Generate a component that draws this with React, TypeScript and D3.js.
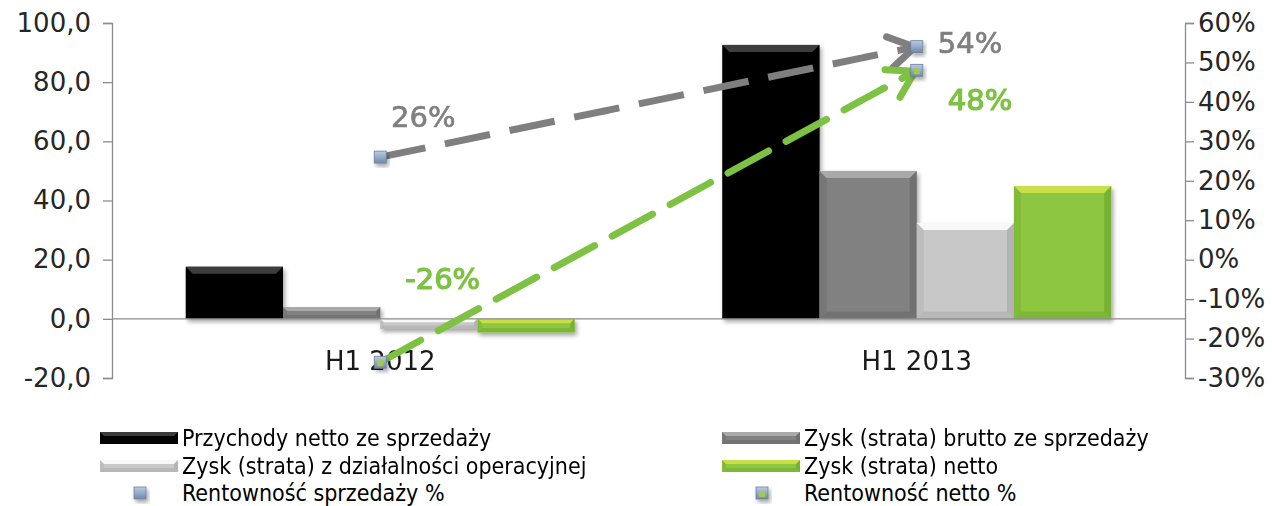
import { useEffect, useRef } from "react";
import * as d3 from "d3";

// chart data
const categories = ["H1 2012", "H1 2013"];
const przychody = [17.6, 92.6];
const zyskBrutto = [4.0, 50.0];
const zyskOperacyjny = [-3.4, 32.4];
const zyskNetto = [-4.6, 44.9];
const rentownoscSprzedazy = [0.26, 0.54];
const rentownoscNetto = [-0.26, 0.48];
const leftTicks = [-20, 0, 20, 40, 60, 80, 100];
const rightTicks = [-0.3, -0.2, -0.1, 0, 0.1, 0.2, 0.3, 0.4, 0.5, 0.6];

const barSeries = [
  { name: "Przychody netto ze sprzedaży", values: przychody, body: "#050505", light: "#3c3c3c", dark: "#000000" },
  { name: "Zysk (strata) brutto ze sprzedaży", values: zyskBrutto, body: "#818181", light: "#a9a9a9", dark: "#5a5a5a" },
  { name: "Zysk (strata) z działalności operacyjnej", values: zyskOperacyjny, body: "#c8c8c8", light: "#f8f8f8", dark: "#9a9a9a" },
  { name: "Zysk (strata) netto", values: zyskNetto, body: "#8dc63f", light: "#c9df48", dark: "#5f9a28" },
];

const lineSeries = [
  { name: "Rentowność sprzedaży %", values: rentownoscSprzedazy, color: "#7f7f7f" },
  { name: "Rentowność netto %", values: rentownoscNetto, color: "#7dc242" },
];

const W = 1272;
const H = 506;
const FONT = "DejaVu Sans";

function bevel(g: d3.Selection<SVGGElement, unknown, null, undefined>, x: number, y: number, w: number, h: number, s: typeof barSeries[number]) {
  const b = Math.min(7, h / 3, w / 6);
  g.append("rect").attr("x", x).attr("y", y).attr("width", w).attr("height", h).attr("fill", s.body);
  g.append("polygon")
    .attr("points", `${x},${y} ${x + w},${y} ${x + w - b},${y + b} ${x + b},${y + b}`)
    .attr("fill", s.light);
  g.append("polygon")
    .attr("points", `${x},${y} ${x + b},${y + b} ${x + b},${y + h - b} ${x},${y + h}`)
    .attr("fill", s.dark)
    .attr("opacity", 0.25);
  g.append("polygon")
    .attr("points", `${x + w},${y} ${x + w - b},${y + b} ${x + w - b},${y + h - b} ${x + w},${y + h}`)
    .attr("fill", s.dark)
    .attr("opacity", 0.45);
  g.append("polygon")
    .attr("points", `${x},${y + h} ${x + b},${y + h - b} ${x + w - b},${y + h - b} ${x + w},${y + h}`)
    .attr("fill", s.dark)
    .attr("opacity", 0.35);
}

function squareMarker(g: d3.Selection<SVGGElement, unknown, null, undefined>, cx: number, cy: number, inner?: string) {
  g.append("rect")
    .attr("x", cx - 6).attr("y", cy - 6).attr("width", 12).attr("height", 12)
    .attr("fill", "url(#markerGrad)").attr("stroke", "#6d7f99").attr("stroke-width", 0.8)
    .attr("filter", "url(#shadow)");
  if (inner) {
    g.append("rect").attr("x", cx - 3).attr("y", cy - 2).attr("width", 6).attr("height", 6).attr("fill", inner);
  }
}

export default function App() {
  const svgRef = useRef<SVGSVGElement>(null);

  useEffect(() => {
    if (!svgRef.current) return;
    const svg = d3.select(svgRef.current);
    svg.selectAll("*").remove();

    const defs = svg.append("defs");
    const shadow = defs.append("filter").attr("id", "shadow").attr("x", "-20%").attr("y", "-20%").attr("width", "150%").attr("height", "160%");
    shadow.append("feDropShadow").attr("dx", 2).attr("dy", 3).attr("stdDeviation", 2).attr("flood-opacity", 0.35);
    const mg = defs.append("linearGradient").attr("id", "markerGrad").attr("x1", 0).attr("y1", 0).attr("x2", 0).attr("y2", 1);
    mg.append("stop").attr("offset", "0%").attr("stop-color", "#b9cde6");
    mg.append("stop").attr("offset", "100%").attr("stop-color", "#6f88aa");

    const x = d3.scaleBand<string>().domain(categories).range([112, 1185]).paddingInner(0.275).paddingOuter(0.1375);
    const x1 = d3.scaleBand<number>().domain(d3.range(barSeries.length)).range([0, x.bandwidth()]);
    const yL = d3.scaleLinear().domain([-20, 100]).range([378, 23]);
    const yR = d3.scaleLinear().domain([-0.3, 0.6]).range([378, 23]);

    // axes
    const axisL = svg.append("g").attr("transform", "translate(112,0)")
      .call(d3.axisLeft(yL).tickValues(leftTicks).tickSize(9).tickPadding(12)
        .tickFormat((d) => (d as number).toFixed(1).replace(".", ",")));
    const axisR = svg.append("g").attr("transform", "translate(1185,0)")
      .call(d3.axisRight(yR).tickValues(rightTicks).tickSize(9).tickPadding(4)
        .tickFormat((d) => Math.round((d as number) * 100) + "%"));
    [axisL, axisR].forEach((a) => {
      a.selectAll("path, line").attr("stroke", "#8c8c8c").attr("stroke-width", 1.3);
      a.selectAll("text").attr("font-family", FONT).attr("font-size", 26).attr("fill", "#262626");
    });

    // bars
    const bars = svg.append("g").attr("filter", "url(#shadow)");
    barSeries.forEach((s, si) => {
      s.values.forEach((v, ci) => {
        const bx = (x(categories[ci]) ?? 0) + (x1(si) ?? 0);
        const y0 = yL(Math.max(0, v));
        const h = Math.abs(yL(v) - yL(0));
        bevel(bars, bx, y0, x1.bandwidth(), h, s);
      });
    });

    // zero line
    svg.append("line")
      .attr("x1", 112).attr("x2", 1185).attr("y1", yL(0)).attr("y2", yL(0))
      .attr("stroke", "#8c8c8c").attr("stroke-width", 1.3);

    // category labels
    svg.append("g").selectAll("text").data(categories).join("text")
      .attr("x", (d) => (x(d) ?? 0) + x.bandwidth() / 2)
      .attr("y", 370)
      .attr("text-anchor", "middle")
      .attr("font-family", FONT).attr("font-size", 26).attr("fill", "#1a1a1a")
      .text((d) => d);

    // lines with arrows
    const cx = (c: string) => (x(c) ?? 0) + x.bandwidth() / 2;
    const labelOffsets = [
      [[43, -30, "middle"], [21, 6, "start"]],
      [[25, -73, "start"], [31, 40, "start"]],
    ] as const;
    lineSeries.forEach((s, li) => {
      const pts = s.values.map((v, i) => [cx(categories[i]), yR(v)] as [number, number]);
      const g = svg.append("g");
      g.append("path")
        .attr("d", d3.line()(pts))
        .attr("fill", "none").attr("stroke", s.color).attr("stroke-width", 7)
        .attr("stroke-dasharray", "46 20").attr("stroke-linecap", li === 1 ? "round" : "butt");
      const [p0, p1] = [pts[pts.length - 2], pts[pts.length - 1]];
      const ang = Math.atan2(p1[1] - p0[1], p1[0] - p0[0]);
      const tip = [p1[0] - 2 * Math.cos(ang), p1[1] - 2 * Math.sin(ang)];
      const len = 30;
      const a1 = ang + Math.PI - 0.55;
      const a2 = ang + Math.PI + 0.55;
      g.append("path")
        .attr("d", `M${tip[0] + len * Math.cos(a1)},${tip[1] + len * Math.sin(a1)} L${tip[0]},${tip[1]} L${tip[0] + len * Math.cos(a2)},${tip[1] + len * Math.sin(a2)}`)
        .attr("fill", "none").attr("stroke", s.color).attr("stroke-width", 7)
        .attr("stroke-linecap", "round").attr("stroke-linejoin", "round");
      pts.forEach((p) => squareMarker(g, p[0], p[1], li === 1 ? "#a6c94a" : undefined));
      pts.forEach((p, i) => {
        const [dx, dy, anchor] = labelOffsets[li][i];
        g.append("text")
          .attr("x", p[0] + dx).attr("y", p[1] + dy)
          .attr("text-anchor", anchor)
          .attr("font-family", FONT).attr("font-size", 29)
          .attr("fill", s.color)
          .attr("stroke", s.color).attr("stroke-width", li === 1 ? 1.2 : 0.7)
          .text(Math.round(s.values[i] * 100) + "%");
      });
    });

    // legend
    const legend = svg.append("g");
    const colX = [100, 722];
    const rowY = [438, 466, 493];
    const legendFont = "DejaVu Sans Condensed";
    barSeries.forEach((s, i) => {
      const lx = colX[i % 2];
      const ly = rowY[Math.floor(i / 2)];
      bevel(legend, lx, ly - 6, 78, 12, s);
      legend.append("text")
        .attr("x", lx + 82).attr("y", ly + 8)
        .attr("font-family", legendFont).attr("font-size", 23).attr("fill", "#000")
        .text(s.name);
    });
    lineSeries.forEach((s, i) => {
      const lx = colX[i];
      const ly = rowY[2];
      squareMarker(legend, lx + 40, ly, i === 1 ? "#a6c94a" : undefined);
      legend.append("text")
        .attr("x", lx + 82).attr("y", ly + 8)
        .attr("font-family", legendFont).attr("font-size", 23).attr("fill", "#000")
        .text(s.name);
    });
  }, []);

  return (
    <svg
      ref={svgRef}
      width={W}
      height={H}
      style={{ position: "absolute", left: 0, top: 0, background: "#fff" }}
    />
  );
}
